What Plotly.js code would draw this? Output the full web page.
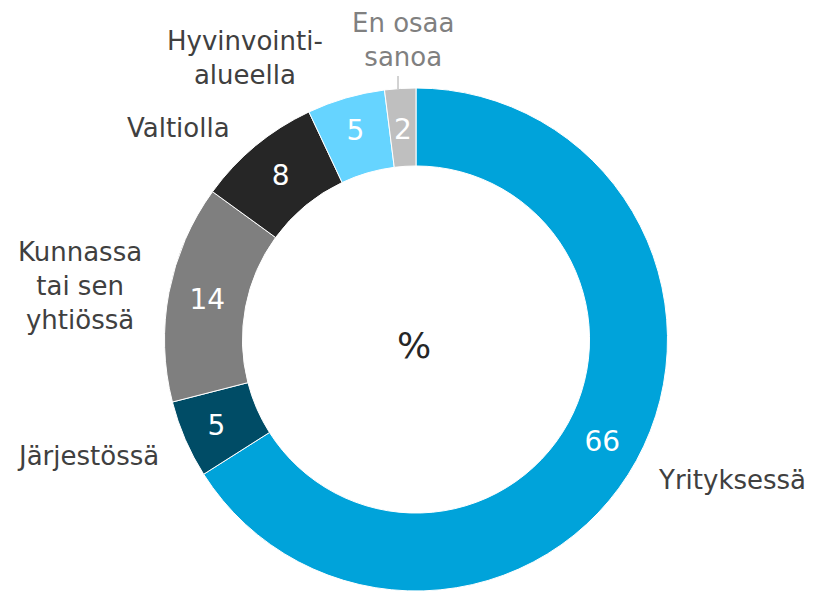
<!DOCTYPE html>
<html>
<head>
<meta charset="utf-8">
<script src="https://cdn.plot.ly/plotly-3.0.1.min.js"></script>
<style>html,body{margin:0;padding:0;background:#fff;}#chart{width:815px;height:591px;}</style>
</head>
<body>
<div id="chart"></div>
<script>
const categories = ["Yrityksessä", "Järjestössä", "Kunnassa tai sen yhtiössä", "Valtiolla", "Hyvinvointialueella", "En osaa sanoa"];
const values = [66, 5, 14, 8, 5, 2];
const labelTexts = ["Yrityksessä", "Järjestössä", "Kunnassa<br>tai sen<br>yhtiössä", "Valtiolla", "Hyvinvointi-<br>alueella", "En osaa<br>sanoa"];
const colors = ["#00A3DA", "#004C66", "#7F7F7F", "#262626", "#66D4FF", "#BFBFBF"];
const labelColors = ["#404040", "#404040", "#404040", "#404040", "#404040", "#808080"];
const labelPos = [[732, 480], [88, 456], [80, 286], [178, 128], [245, 58], [403, 40]];

const W = 815, H = 591;
const font = "DejaVu Sans, Verdana, sans-serif";
const cx = 416, cy = 339.5, rOut = 251.5, hole = 0.69;

// the narrowest slice gets its value as an annotation so it is not shrunk
const narrow = values.map(v => v < 3);
const total = values.reduce((a, b) => a + b, 0);

const trace = {
  type: "pie",
  labels: categories,
  values: values,
  sort: false,
  direction: "clockwise",
  rotation: 0,
  hole: hole,
  marker: {colors: colors, line: {color: "#ffffff", width: 1}},
  texttemplate: values.map((v, i) => narrow[i] ? "" : "%{value}"),
  textposition: "inside",
  insidetextorientation: "horizontal",
  textfont: {family: font, size: 28, color: "#ffffff"},
  showlegend: false,
  domain: {x: [(cx - rOut) / W, (cx + rOut) / W], y: [0, 503 / H]},
  hoverinfo: "label+value"
};

const annotations = labelTexts.map((t, i) => ({
  text: t,
  x: labelPos[i][0] / W,
  y: 1 - labelPos[i][1] / H,
  xref: "paper", yref: "paper",
  xanchor: "center", yanchor: "middle",
  showarrow: false,
  align: "center",
  font: {family: font, size: 26, color: labelColors[i]}
}));

let cum = 0;
values.forEach((v, i) => {
  const mid = (cum + v / 2) / total * 2 * Math.PI;
  cum += v;
  if (!narrow[i]) return;
  const r = rOut * (1 + hole) / 2;
  annotations.push({
    text: String(v),
    x: (cx + r * Math.sin(mid)) / W,
    y: 1 - (cy - r * Math.cos(mid) + 2) / H,
    xref: "paper", yref: "paper", xanchor: "center", yanchor: "middle",
    showarrow: false,
    font: {family: font, size: 28, color: "#ffffff"}
  });
});

annotations.push({
  text: "%", x: 414 / W, y: 1 - 345 / H, xref: "paper", yref: "paper",
  xanchor: "center", yanchor: "middle", showarrow: false,
  font: {family: font, size: 36, color: "#262626"}
});

const layout = {
  width: W, height: H,
  margin: {l: 0, r: 0, t: 0, b: 0},
  paper_bgcolor: "#ffffff",
  annotations: annotations,
  shapes: [{type: "line", xref: "paper", yref: "paper",
    x0: 398 / W, x1: 398 / W, y0: 1 - 76 / H, y1: 1 - 89 / H,
    line: {color: "#A6A6A6", width: 1}}]
};

Plotly.newPlot("chart", [trace], layout, {displayModeBar: false, staticPlot: true});
</script>
</body>
</html>
